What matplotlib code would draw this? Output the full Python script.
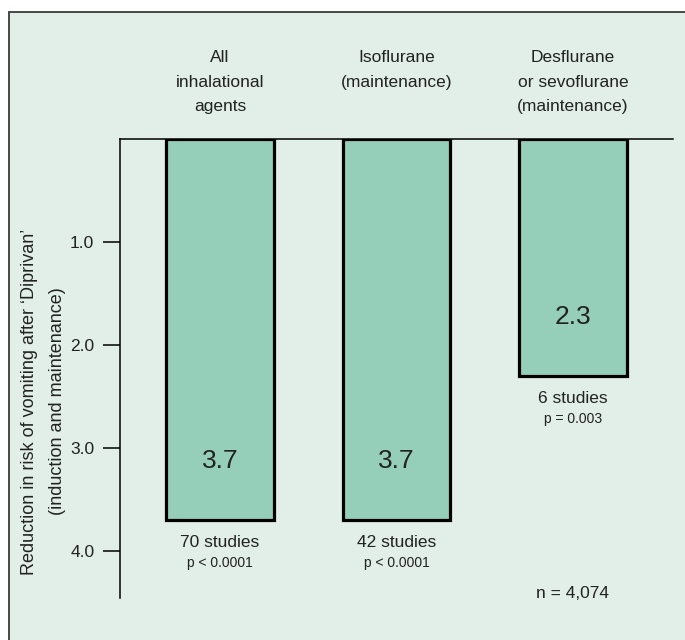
import matplotlib
matplotlib.use('Agg')
import matplotlib.pyplot as plt
import matplotlib.patches as mpatches
from matplotlib.transforms import blended_transform_factory

plt.rcParams['font.family'] = ['Liberation Sans', 'DejaVu Sans']

# data
categories = ['All\ninhalational\nagents',
              'Isoflurane\n(maintenance)',
              'Desflurane\nor sevoflurane\n(maintenance)']
values = [3.7, 3.7, 2.3]
studies = ['70 studies', '42 studies', '6 studies']
pvals = ['p < 0.0001', 'p < 0.0001', 'p = 0.003']
n_total = 'n = 4,074'
yticks = [1.0, 2.0, 3.0, 4.0]
ylabel1 = 'Reduction in risk of vomiting after \u2018Diprivan\u2019'
ylabel2 = '(induction and maintenance)'

bg = '#e1efe8'
barcol = '#95cfb9'
txt = '#222222'

fig = plt.figure(figsize=(6.85, 6.4), dpi=100)
fig.patch.set_facecolor('white')

# light green panel with top/left border
panel = mpatches.Rectangle((9/685, -0.01), 1.1, 1.01 - 12/640,
                           transform=fig.transFigure, facecolor=bg,
                           edgecolor='#3a3a3a', linewidth=1.3, zorder=-10)
fig.add_artist(panel)

ax = fig.add_axes([120/685, 1 - 598/640, 553/685, 459/640])
ax.set_facecolor('none')

x = list(range(len(values)))
ax.bar(x, values, width=0.61, color=barcol, edgecolor='black', linewidth=2.3, zorder=3)

ax.set_xlim(-0.567, 2.567)
ax.set_ylim(4.46, 0)

for s in ['bottom', 'right']:
    ax.spines[s].set_visible(False)
for s in ['top', 'left']:
    ax.spines[s].set_linewidth(1.1)
    ax.spines[s].set_color('black')

ax.set_xticks([])
ax.set_yticks(yticks)
ax.set_yticklabels([f'{t:.1f}' for t in yticks], fontsize=12.5, color=txt)
ax.tick_params(axis='y', length=12, width=1.1, pad=6.5, direction='out')

for xi, v, st, p in zip(x, values, studies, pvals):
    ax.annotate(f'{v:.1f}', (xi, v), xytext=(0, 42), textcoords='offset points',
                ha='center', va='center', fontsize=19, color=txt, zorder=4)
    ax.annotate(st, (xi, v), xytext=(0, -16.3), textcoords='offset points',
                ha='center', va='center', fontsize=12.5, color=txt)
    ax.annotate(p, (xi, v), xytext=(0, -31), textcoords='offset points',
                ha='center', va='center', fontsize=10, color=txt)

# category headers above the plot
hdr = blended_transform_factory(ax.transData, fig.transFigure)
for xi, c in zip(x, categories):
    ax.text(xi, 1 - 50/640, c, transform=hdr, ha='center', va='top',
            fontsize=12.5, color=txt, linespacing=1.8)

# total n under the last bar
ntr = blended_transform_factory(ax.transData, ax.transAxes)
ax.text(x[-1], 0.009, n_total, transform=ntr, ha='center', va='center',
        fontsize=12.5, color=txt)

# two-line y label
fig.text(30/685, 1 - 402/640, ylabel1, rotation=90, ha='center', va='center',
         fontsize=13, color=txt)
fig.text(57/685, 1 - 401/640, ylabel2, rotation=90, ha='center', va='center',
         fontsize=13, color=txt)

fig.savefig('out.png', dpi=100, facecolor=fig.get_facecolor())
